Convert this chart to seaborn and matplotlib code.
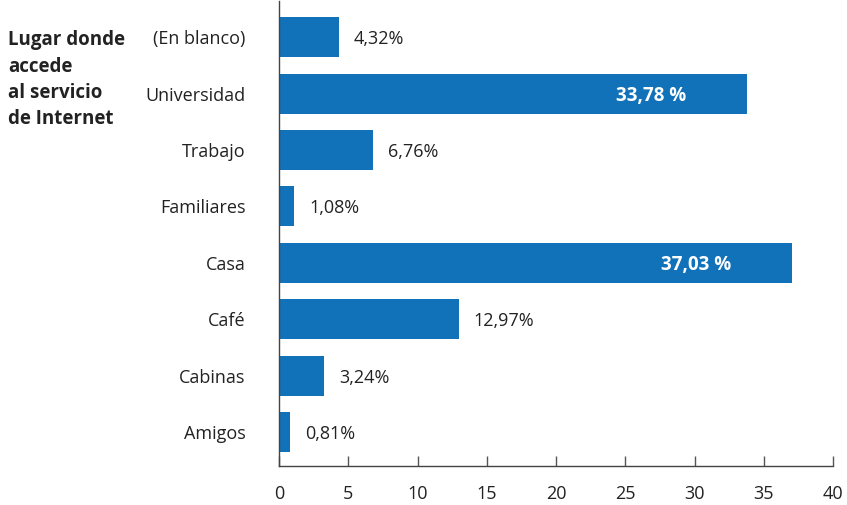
import pandas as pd
import matplotlib.pyplot as plt
import seaborn as sns

# Data
categories = ["(En blanco)", "Universidad", "Trabajo", "Familiares", "Casa", "Café", "Cabinas", "Amigos"]
values = [4.32, 33.78, 6.76, 1.08, 37.03, 12.97, 3.24, 0.81]
labels = ["4,32%", "33,78 %", "6,76%", "1,08%", "37,03 %", "12,97%", "3,24%", "0,81%"]
inside = [False, True, False, False, True, False, False, False]
x_ticks = [0, 5, 10, 15, 20, 25, 30, 35, 40]

BLUE = "#1172BA"

sns.set_theme(style="white")
plt.rcParams['font.family'] = ['Open Sans', 'DejaVu Sans']

df = pd.DataFrame({"lugar": categories, "pct": values})

fig = plt.figure(figsize=(8.47, 5.05), dpi=100)
ax = fig.add_axes([0.3294, 0.0772, 0.6541, 0.9208])

sns.barplot(data=df, x="pct", y="lugar", orient="h", color=BLUE,
            saturation=1, width=0.71, linewidth=0, ax=ax)

for i, (v, lab, ins) in enumerate(zip(values, labels, inside)):
    if ins:
        ax.text(v - 4.4, i, lab, ha="right", va="center_baseline", color="white",
                fontsize=13.5, fontweight="bold")
    else:
        ax.text(v + 1.1, i, lab, ha="left", va="center_baseline", color="#222222",
                fontsize=13)

ax.set_xlim(0, 40)
ax.set_ylim(7.6, -0.64)
ax.set_xticks(x_ticks)
ax.set_xticklabels([str(t) for t in x_ticks], fontsize=13, color="#222222")
ax.tick_params(axis="y", labelsize=13, labelcolor="#222222", length=0, pad=24)
ax.tick_params(axis="x", direction="in", length=7, width=1, color="#555555",
               bottom=True, pad=14)
for t in ax.get_yticklabels():
    t.set_va("center_baseline")
ax.set_xlabel("")
ax.set_ylabel("")

for s in ["top", "right"]:
    ax.spines[s].set_visible(False)
for s in ["left", "bottom"]:
    ax.spines[s].set_color("#444444")
    ax.spines[s].set_linewidth(1)

fig.text(0.010, 0.94, "Lugar donde\naccede\nal servicio\nde Internet",
         ha="left", va="top", fontsize=13.5, fontweight="bold",
         color="#222222", linespacing=1.42)

fig.savefig("out.png", dpi=100)
